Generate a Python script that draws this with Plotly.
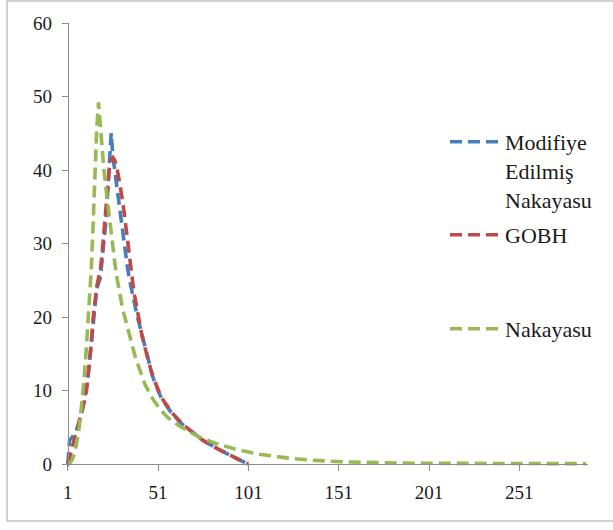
import plotly.graph_objects as go

# ---- data ----
modifiye = [
    0, 3.3, 3.5, 3.8, 4.2, 4.7, 5.4, 6.3, 7.3, 8.5,
    9.8, 11.5, 13.9, 16.4, 19.6, 22.2, 23.8, 24.6, 25.3, 27.8,
    30.2, 32.8, 36.5, 40.2, 45.0, 41.8, 39.8, 37.9, 36.0, 34.1,
    32.0, 30.0, 28.2, 26.8, 25.3, 24.0, 22.8, 21.6, 20.6, 19.6,
    18.6, 17.5, 16.4, 15.4, 14.4, 13.5, 12.7, 11.9, 11.2, 10.5,
    9.9, 9.4, 8.9, 8.5, 8.1, 7.7, 7.4, 7.1, 6.8, 6.5,
    6.25, 6.0, 5.75, 5.5, 5.3, 5.1, 4.9, 4.7, 4.5, 4.3,
    4.1, 3.9, 3.7, 3.5, 3.35, 3.2, 3.05, 2.9, 2.75, 2.6,
    2.47, 2.34, 2.2, 2.06, 1.93, 1.8, 1.68, 1.55, 1.42, 1.29,
    1.15, 1.0, 0.86, 0.73, 0.61, 0.5, 0.39, 0.29, 0.19, 0.09,
    0,
]

gobh = [
    0, 0.9, 1.9, 2.8, 3.7, 4.5, 5.3, 6.2, 7.1, 8.1,
    9.3, 11.4, 13.8, 16.5, 19.8, 22.4, 24.1, 25.3, 26.4, 28.6,
    31.8, 35.0, 38.0, 40.3, 41.4, 41.7, 41.3, 40.5, 39.2, 37.9,
    36.3, 34.6, 32.5, 30.2, 28.1, 26.3, 24.6, 22.9, 21.4, 20.1,
    18.8, 17.6, 16.5, 15.5, 14.5, 13.6, 12.8, 12.0, 11.3, 10.6,
    10.0, 9.5, 9.0, 8.6, 8.2, 7.8, 7.5, 7.2, 6.9, 6.6,
    6.3, 6.05, 5.8, 5.55, 5.33, 5.12, 4.92, 4.72, 4.52, 4.32,
    4.12, 3.92, 3.72, 3.52, 3.36, 3.2, 3.04, 2.89, 2.74, 2.6,
    2.46, 2.33, 2.2, 2.07, 1.94, 1.81, 1.68, 1.55, 1.42, 1.29,
    1.16, 1.02, 0.88, 0.75, 0.62, 0.5, 0.39, 0.29, 0.19, 0.09,
    0,
]

nakayasu = [
    0, 0.1, 0.4, 0.9, 1.7, 2.8, 4.4, 6.5, 8.8, 11.5,
    14.8, 18.5, 22.0, 26.5, 32.5, 39.5, 45.5, 49.2, 46.0, 42.5,
    40.0, 37.8, 35.5, 33.4, 31.4, 29.3, 27.4, 25.6, 24.1, 22.8,
    21.6, 20.5, 19.5, 18.5, 17.6, 16.7, 15.8, 14.9, 14.1, 13.3,
    12.6, 11.9, 11.3, 10.7, 10.2, 9.7, 9.3, 8.9, 8.5, 8.1,
    7.8, 7.5, 7.2, 6.9, 6.65, 6.4, 6.2, 6.0, 5.8, 5.6,
    5.45, 5.3, 5.15, 5.0, 4.85, 4.7, 4.55, 4.4, 4.27, 4.14,
    4.01, 3.89, 3.77, 3.66, 3.55, 3.45, 3.35, 3.25, 3.15, 3.06,
    2.97, 2.88, 2.8, 2.72, 2.64, 2.56, 2.48, 2.41, 2.34, 2.27,
    2.2, 2.13, 2.07, 2.01, 1.95, 1.89, 1.83, 1.77, 1.72, 1.67,
    1.62, 1.57, 1.52, 1.47, 1.42, 1.38, 1.34, 1.30, 1.26, 1.22,
    1.18, 1.14, 1.11, 1.08, 1.05, 1.02, 0.99, 0.96, 0.93, 0.90,
    0.87, 0.84, 0.81, 0.79, 0.76, 0.74, 0.71, 0.69, 0.67, 0.65,
    0.63, 0.61, 0.59, 0.57, 0.55, 0.53, 0.51, 0.50, 0.48, 0.47,
    0.45, 0.44, 0.42, 0.41, 0.40, 0.38, 0.37, 0.36, 0.35, 0.34,
    0.33, 0.32, 0.31, 0.30, 0.29, 0.29, 0.28, 0.27, 0.26, 0.26,
    0.25, 0.24, 0.24, 0.23, 0.22, 0.22, 0.21, 0.21, 0.20, 0.20,
    0.19, 0.19, 0.18, 0.18, 0.17, 0.17, 0.17, 0.16, 0.16, 0.15,
    0.15, 0.15, 0.14, 0.14, 0.14, 0.13, 0.13, 0.13, 0.12, 0.12,
    0.12, 0.12, 0.11, 0.11, 0.11, 0.11, 0.10, 0.10, 0.10, 0.10,
    0.10, 0.10, 0.09, 0.09, 0.09, 0.09, 0.09, 0.09, 0.09, 0.08,
    0.08, 0.08, 0.08, 0.08, 0.08, 0.08, 0.08, 0.08, 0.08, 0.08,
    0.08, 0.08, 0.08, 0.08, 0.07, 0.07, 0.07, 0.07, 0.07, 0.07,
    0.07, 0.07, 0.07, 0.07, 0.07, 0.07, 0.07, 0.07, 0.07, 0.07,
    0.07, 0.07, 0.06, 0.06, 0.06, 0.06, 0.06, 0.06, 0.06, 0.06,
    0.06, 0.06, 0.06, 0.06, 0.06, 0.06, 0.06, 0.06, 0.06, 0.06,
    0.06, 0.06, 0.06, 0.06, 0.06, 0.05, 0.05, 0.05, 0.05, 0.05,
    0.05, 0.05, 0.05, 0.05, 0.05, 0.05, 0.05, 0.05, 0.05, 0.05,
    0.05, 0.05, 0.05, 0.05, 0.05, 0.05, 0.05, 0.05,
]

x_tick_labels = ["1", "51", "101", "151", "201", "251"]
y_tick_values = [0, 10, 20, 30, 40, 50, 60]

names = ["Modifiye<br>Edilmiş<br>Nakayasu", "GOBH", "Nakayasu"]
colors = ["#4A7EBB", "#BE4B48", "#98B954"]

steps = list(range(1, len(nakayasu) + 1))
n_steps = len(nakayasu)

# ---- figure ----
W, H = 613, 530
ML, MR, MT, MB = 66, 25, 23, 63
x_lo, x_hi = 0, n_steps + 1
y_lo, y_hi = -0.4, 60

fig = go.Figure()
series = [modifiye, gobh, nakayasu]
legend_ids = ["legend", "legend2", "legend3"]
for vals, name, col, lid in zip(series, names, colors, legend_ids):
    fig.add_trace(go.Scatter(
        x=steps[:len(vals)], y=vals, mode="lines", name=name,
        line=dict(color=col, width=3.6, dash="12px,6px"),
        legend=lid, hoverinfo="skip",
    ))

font_family = "Liberation Serif, DejaVu Serif, serif"
axis_col = "#8C8C8C"

leg_common = dict(
    xanchor="left", yanchor="top", bgcolor="rgba(0,0,0,0)",
    font=dict(family=font_family, size=22, color="#1a1a1a"),
    valign="top", itemwidth=50, tracegroupgap=0,
)
plot_w = W - ML - MR
plot_h = H - MT - MB

def px_to_paper_x(px):
    return (px - ML) / plot_w

def px_to_paper_y(py):
    return (H - MB - py) / plot_h

fig.update_layout(
    width=W, height=H,
    margin=dict(l=ML, r=MR, t=MT, b=MB, pad=0),
    paper_bgcolor="white", plot_bgcolor="white",
    font=dict(family=font_family, color="#1a1a1a"),
    showlegend=True,
    legend=dict(x=px_to_paper_x(445), y=px_to_paper_y(121), **leg_common),
    legend2=dict(x=px_to_paper_x(445), y=px_to_paper_y(214), **leg_common),
    legend3=dict(x=px_to_paper_x(445), y=px_to_paper_y(308), **leg_common),
    xaxis=dict(
        range=[x_lo, x_hi], showgrid=False, zeroline=False,
        tickmode="array", tickvals=[int(t) for t in x_tick_labels], ticktext=x_tick_labels,
        ticks="outside", ticklen=6, tickwidth=1, tickcolor=axis_col,
        showline=True, linecolor=axis_col, linewidth=1,
        anchor="free", position=(0 - y_lo) / (y_hi - y_lo),
        tickfont=dict(family=font_family, size=19, color="#1a1a1a"),
        ticklabelstandoff=5,
    ),
    yaxis=dict(
        range=[y_lo, y_hi], showgrid=False, zeroline=False,
        tickmode="array", tickvals=y_tick_values,
        ticks="outside", ticklen=6, tickwidth=1, tickcolor=axis_col,
        showline=True, linecolor=axis_col, linewidth=1,
        anchor="free", position=(1 - x_lo) / (x_hi - x_lo),
        tickfont=dict(family=font_family, size=19, color="#1a1a1a"),
        ticklabelstandoff=6,
    ),
)

# outer chart border
fig.add_shape(
    type="rect", xref="paper", yref="paper",
    x0=px_to_paper_x(7), x1=px_to_paper_x(640),
    y0=px_to_paper_y(521), y1=px_to_paper_y(1),
    line=dict(color="#A0A0A0", width=1), fillcolor="rgba(0,0,0,0)", layer="below",
)

fig.write_html("out.html")
